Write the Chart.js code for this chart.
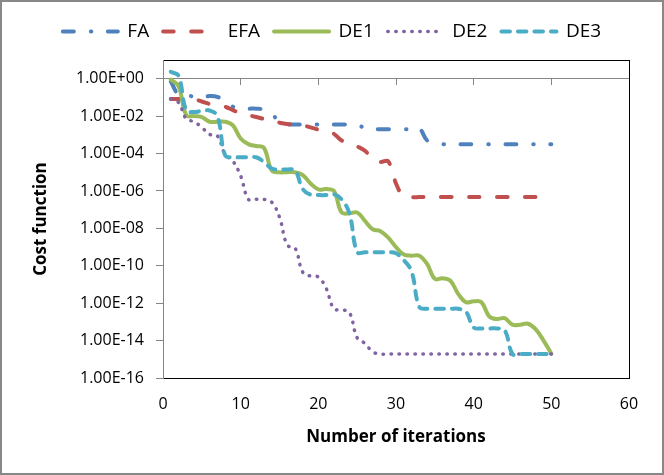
<!DOCTYPE html>
<html>
<head>
<meta charset="utf-8">
<script src="https://cdn.jsdelivr.net/npm/chart.js@4.4.0/dist/chart.umd.min.js"></script>
<style>
  html, body { margin: 0; padding: 0; background: #fff; }
  #wrap { position: relative; width: 664px; height: 475px; }
  #frame { position: absolute; left: 0; top: 0; width: 664px; height: 475px;
           box-sizing: border-box; border: 2px solid #888; pointer-events: none; }
</style>
</head>
<body>
<div id="wrap">
  <canvas id="chart" width="664" height="475"></canvas>
  <div id="frame"></div>
</div>
<script>
// iterations on the x axis
const iterations = [1, 2, 3, 4, 5, 6, 7, 8, 9, 10,
  11, 12, 13, 14, 15, 16, 17, 18, 19, 20,
  21, 22, 23, 24, 25, 26, 27, 28, 29, 30,
  31, 32, 33, 34, 35, 36, 37, 38, 39, 40,
  41, 42, 43, 44, 45, 46, 47, 48, 49, 50];

// cost function values, read as log10 from the picture
const faLog = [-0.15, -0.85, -0.9, -0.95, -1.0, -0.93, -0.97, -1.2, -1.5, -1.58,
  -1.6, -1.6, -1.65, -1.85, -2.35, -2.44, -2.45, -2.45, -2.45, -2.45,
  -2.45, -2.45, -2.45, -2.45, -2.45, -2.65, -2.7, -2.7, -2.7, -2.7,
  -2.7, -2.7, -2.66, -3.3, -3.45, -3.5, -3.5, -3.5, -3.5, -3.5,
  -3.5, -3.5, -3.5, -3.5, -3.5, -3.5, -3.5, -3.5, -3.5, -3.5];
const efaLog = [-1.08, -1.08, -1.08, -1.1, -1.22, -1.35, -1.45, -1.5, -1.68, -1.85,
  -1.95, -2.05, -2.15, -2.28, -2.35, -2.42, -2.45, -2.5, -2.6, -2.72,
  -2.8, -2.95, -3.3, -3.42, -3.62, -3.85, -4.3, -4.45, -4.42, -5.6,
  -6.3, -6.33, -6.33, -6.33, -6.33, -6.33, -6.33, -6.33, -6.33, -6.33,
  -6.33, -6.33, -6.33, -6.33, -6.33, -6.33, -6.33, -6.33, -6.33, -6.33];
const de1Log = [-0.05, -0.4, -1.95, -2.0, -2.05, -2.3, -2.3, -2.3, -2.5, -3.2,
  -3.5, -3.6, -3.7, -4.9, -5.0, -5.0, -5.0, -5.15, -5.6, -5.92,
  -5.9, -6.0, -7.15, -7.2, -7.15, -7.6, -8.05, -8.15, -8.5, -9.0,
  -9.4, -9.46, -9.46, -9.9, -10.7, -10.67, -10.8, -11.5, -11.95, -11.9,
  -11.95, -12.7, -12.85, -12.8, -13.15, -13.15, -13.1, -13.4, -14.0, -14.7];
const de2Log = [-1.08, -1.27, -2.15, -2.3, -2.6, -2.98, -3.05, -4.05, -4.4, -5.2,
  -6.45, -6.45, -6.45, -6.6, -7.4, -8.9, -9.05, -10.35, -10.55, -10.6,
  -11.2, -12.3, -12.35, -12.5, -13.85, -14.15, -14.6, -14.72, -14.72, -14.72,
  -14.72, -14.72, -14.72, -14.72, -14.72, -14.72, -14.72, -14.72, -14.72, -14.72,
  -14.72, -14.72, -14.72, -14.72, -14.72, -14.72, -14.72, -14.72, -14.72, -14.72];
const de3Log = [0.37, 0.15, -1.7, -1.78, -1.72, -1.7, -2.0, -4.1, -4.2, -4.2,
  -4.2, -4.2, -4.45, -4.8, -4.85, -4.85, -4.9, -5.9, -6.2, -6.22,
  -6.22, -6.18, -6.45, -7.2, -9.27, -9.28, -9.28, -9.28, -9.28, -9.33,
  -9.7, -10.3, -12.2, -12.3, -12.3, -12.3, -12.3, -12.3, -12.45, -13.3,
  -13.35, -13.35, -13.35, -13.45, -14.72, -14.72, -14.72, -14.72, -14.72, -14.72];

const yTickValues = [1e-16, 1e-14, 1e-12, 1e-10, 1e-8, 1e-6, 1e-4, 1e-2, 1];
const yTickLabels = ["1.00E-16", "1.00E-14", "1.00E-12", "1.00E-10", "1.00E-08",
  "1.00E-06", "1.00E-04", "1.00E-02", "1.00E+00"];

const axisGrey = "#868686";
const font = "Open Sans";

function points(logs) {
    return iterations.map((it, i) => ({ x: it, y: Math.pow(10, logs[i]) }));
}

function series(label, logs, color, dash, width, order) {
    return {
        label: label,
        data: points(logs),
        borderColor: color,
        backgroundColor: color,
        borderWidth: width,
        borderDash: dash,
        borderCapStyle: "round",
        borderJoinStyle: "round",
        pointRadius: 0,
        pointHoverRadius: 0,
        tension: 0.4,
        fill: false,
        order: order
    };
}

// give the legend some room below it
const legendMargin = {
    id: "legendMargin",
    beforeInit(chart) {
        const fit = chart.legend.fit;
        chart.legend.fit = function () {
            fit.call(this);
            this.height += 9;
        };
    }
};

new Chart(document.getElementById("chart"), {
    type: "line",
    data: {
        datasets: [
            series("FA", faLog, "#4F81BD", [11, 17, 0.5, 16.5], 4, 5),
            series("EFA", efaLog, "#C0504D", [10.5, 17.5], 4, 4),
            series("DE1", de1Log, "#9BBB59", [], 4, 3),
            series("DE2", de2Log, "#8064A2", [0.5, 7.5], 3.5, 2),
            series("DE3", de3Log, "#4BACC6", [8.5, 8], 4, 1)
        ]
    },
    options: {
        responsive: false,
        animation: false,
        layout: { padding: { top: 8, left: 2, right: 2, bottom: 2 } },
        plugins: {
            tooltip: { enabled: false },
            legend: {
                position: "top",
                labels: {
                    usePointStyle: true,
                    pointStyle: "line",
                    pointStyleWidth: 55,
                    padding: 14,
                    color: "#000",
                    font: { family: font, size: 19 },
                    sort: (a, b) => a.datasetIndex - b.datasetIndex,
                    generateLabels: (chart) => {
                        const items = Chart.defaults.plugins.legend.labels.generateLabels(chart);
                        items.forEach((item) => {
                            const ds = chart.data.datasets[item.datasetIndex];
                            item.lineDash = ds.borderDash;
                            item.lineCap = "round";
                            item.lineWidth = ds.borderWidth;
                            item.strokeStyle = ds.borderColor;
                            item.pointStyle = "line";
                        });
                        return items;
                    }
                }
            }
        },
        scales: {
            x: {
                type: "linear",
                position: "bottom",
                min: 0,
                max: 60,
                ticks: { stepSize: 10, padding: 17, color: "#000", font: { family: font, size: 16 } },
                grid: { display: true, drawOnChartArea: false, drawTicks: false },
                border: { display: true, color: "#000", width: 1 },
                title: {
                    display: true,
                    text: "Number of iterations",
                    color: "#000",
                    font: { family: font, size: 17, weight: "bold" },
                    padding: { top: 0, bottom: 26 }
                },
                afterFit: (scale) => { scale.height = 95; }
            },
            xAxisLine: {
                type: "linear",
                axis: "x",
                position: { y: 1 },
                min: 0,
                max: 60,
                ticks: { stepSize: 10, display: false },
                grid: { display: true, drawOnChartArea: false, drawTicks: true, tickLength: 6, color: axisGrey },
                border: { display: true, color: axisGrey, width: 1 }
            },
            xTop: {
                type: "linear",
                axis: "x",
                position: "top",
                min: 0,
                max: 60,
                ticks: { display: false },
                grid: { display: true, drawOnChartArea: false, drawTicks: false },
                border: { display: true, color: "#000", width: 1 },
                afterFit: (scale) => { scale.height = 0; }
            },
            y: {
                type: "logarithmic",
                position: "left",
                min: 1e-16,
                max: 10,
                afterBuildTicks: (scale) => {
                    scale.ticks = yTickValues.map((v) => ({ value: v }));
                },
                ticks: {
                    autoSkip: false,
                    padding: 12,
                    color: "#000",
                    font: { family: font, size: 16 },
                    callback: (value, index) => yTickLabels[index]
                },
                grid: { display: true, drawOnChartArea: false, drawTicks: true, tickLength: 7, color: axisGrey },
                border: { display: true, color: axisGrey, width: 1 },
                title: {
                    display: true,
                    text: "Cost function",
                    color: "#000",
                    font: { family: font, size: 17, weight: "bold" },
                    padding: { top: 29, bottom: 0 }
                },
                afterFit: (scale) => { scale.width = 161; }
            },
            yRight: {
                type: "linear",
                axis: "y",
                position: "right",
                ticks: { display: false },
                grid: { display: true, drawOnChartArea: false, drawTicks: false },
                border: { display: true, color: "#000", width: 1 },
                afterFit: (scale) => { scale.width = 33; }
            }
        }
    },
    plugins: [legendMargin]
});
</script>
</body>
</html>
